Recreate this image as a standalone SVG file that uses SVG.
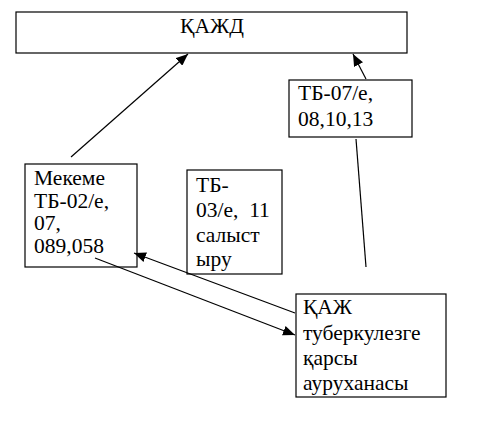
<svg xmlns="http://www.w3.org/2000/svg" width="496" height="436" viewBox="0 0 496 436">
<defs>
<marker id="ah" markerUnits="userSpaceOnUse" markerWidth="12" markerHeight="10" viewBox="0 0 12 10" refX="12" refY="5" orient="auto">
<path d="M0,0 L12,5 L0,10 z" fill="#000"/>
</marker>
</defs>
<style>
.box{fill:#fff;stroke:#000;stroke-width:1.2}
.c{stroke:#000;stroke-width:1.2;fill:none}
</style>
<rect width="496" height="436" fill="#fff"/>
<g font-family="'Liberation Serif', 'Times New Roman', serif" font-size="21.5" fill="#000">
<g id="kazhd">
<rect class="box" x="16" y="12" width="391" height="41"/>
<text x="212" y="33" text-anchor="middle">ҚАЖД</text>
</g>
<g id="tb07">
<rect class="box" x="289" y="80" width="123" height="57"/>
<text x="298" y="100">ТБ-07/е,</text>
<text x="298" y="126">08,10,13</text>
</g>
<g id="mekeme">
<rect class="box" x="25" y="164" width="112" height="103"/>
<text x="34" y="185">Мекеме</text>
<text x="34" y="208">ТБ-02/е,</text>
<text x="34" y="230">07,</text>
<text x="34" y="253">089,058</text>
</g>
<g id="tb03">
<rect class="box" x="187" y="170" width="95" height="104"/>
<text x="196" y="192">ТБ-</text>
<text x="196" y="217" xml:space="preserve">03/е,  11</text>
<text x="196" y="242">салыст</text>
<text x="196" y="266">ыру</text>
</g>
<g id="hospital">
<rect class="box" x="296" y="294" width="150" height="103"/>
<text x="303" y="314">ҚАЖ</text>
<text x="303" y="340">туберкулезге</text>
<text x="303" y="365">қарсы</text>
<text x="303" y="390">ауруханасы</text>
</g>
</g>
<g id="connectors">
<line class="c" x1="71" y1="157" x2="188" y2="54" marker-end="url(#ah)"/>
<line class="c" x1="366" y1="79" x2="353" y2="54" marker-end="url(#ah)"/>
<line class="c" x1="356" y1="139" x2="366" y2="267"/>
<line class="c" x1="295" y1="313" x2="134" y2="253" marker-end="url(#ah)"/>
<line class="c" x1="95" y1="258" x2="295" y2="335" marker-end="url(#ah)"/>
</g>
</svg>
